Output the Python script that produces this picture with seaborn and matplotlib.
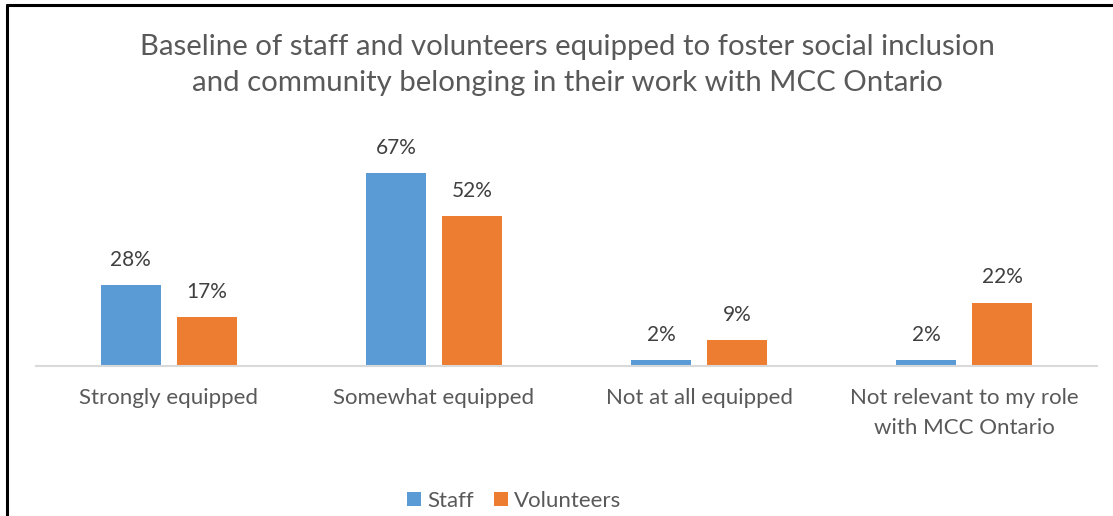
import matplotlib
matplotlib.use("Agg")
import matplotlib.pyplot as plt
from matplotlib.lines import Line2D
from matplotlib.patches import Patch
import seaborn as sns
import pandas as pd

# Survey results (percent of respondents)
categories = [
    "Strongly equipped",
    "Somewhat equipped",
    "Not at all equipped",
    "Not relevant to my role\nwith MCC Ontario",
]
staff = [28, 67, 2, 2]
volunteers = [17, 52, 9, 22]
series_names = ["Staff", "Volunteers"]
series_colors = ["#5B9BD5", "#ED7D31"]
title = ("Baseline of staff and volunteers equipped to foster social inclusion\n"
         "and community belonging in their work with MCC Ontario")

df = pd.DataFrame({
    "category": categories * 2,
    "value": staff + volunteers,
    "series": [series_names[0]] * len(categories) + [series_names[1]] * len(categories),
})

sns.set_theme(style="white")
plt.rcParams["font.family"] = ["Lato", "DejaVu Sans"]

W, H = 1113, 516
fig = plt.figure(figsize=(W / 100, H / 100), dpi=100)
fig.patch.set_facecolor("white")

ax = fig.add_axes([36 / W, 1 - 366 / H, (1097 - 36) / W, 230.4 / H])
sns.barplot(
    data=df, x="category", y="value", hue="series",
    palette=series_colors, saturation=1, width=0.573, gap=0.21,
    linewidth=0, legend=False, ax=ax,
)
ax.set_ylim(0, 80)
ax.set_xlim(-0.5, 3.5)
ax.set_xlabel("")
ax.set_ylabel("")
ax.set_yticks([])
for side in ("left", "right", "top"):
    ax.spines[side].set_visible(False)
ax.spines["bottom"].set_color("#D9D9D9")
ax.spines["bottom"].set_linewidth(1.5)
ax.tick_params(axis="x", length=0, pad=16, labelsize=16, labelcolor="#595959")
for lbl in ax.get_xticklabels():
    lbl.set_linespacing(1.62)

for cont in ax.containers:
    ax.bar_label(cont, labels=[f"{v:.0f}%" for v in cont.datavalues],
                 padding=11, fontsize=15, color="#404040")

fig.text(567 / W, 1 - 65 / H, title, ha="center", va="center",
         fontsize=21.2, color="#595959", linespacing=1.45)

handles = [Patch(facecolor=c, edgecolor="none") for c in series_colors]
fig.legend(handles, series_names, loc="center", ncol=2, frameon=False,
           bbox_to_anchor=(514 / W, 1 - 501 / H), fontsize=16,
           handlelength=0.63, handleheight=0.63, handletextpad=0.27,
           columnspacing=0.9, labelcolor="#595959")

# Outer frame (left and top edges)
fig.add_artist(Line2D([7 / W, 7 / W], [0, 1 - 5 / H], color="black", lw=2.2))
fig.add_artist(Line2D([7 / W, 1], [1 - 5 / H, 1 - 5 / H], color="black", lw=2.2))

fig.savefig("out.png", dpi=100, facecolor="white")
